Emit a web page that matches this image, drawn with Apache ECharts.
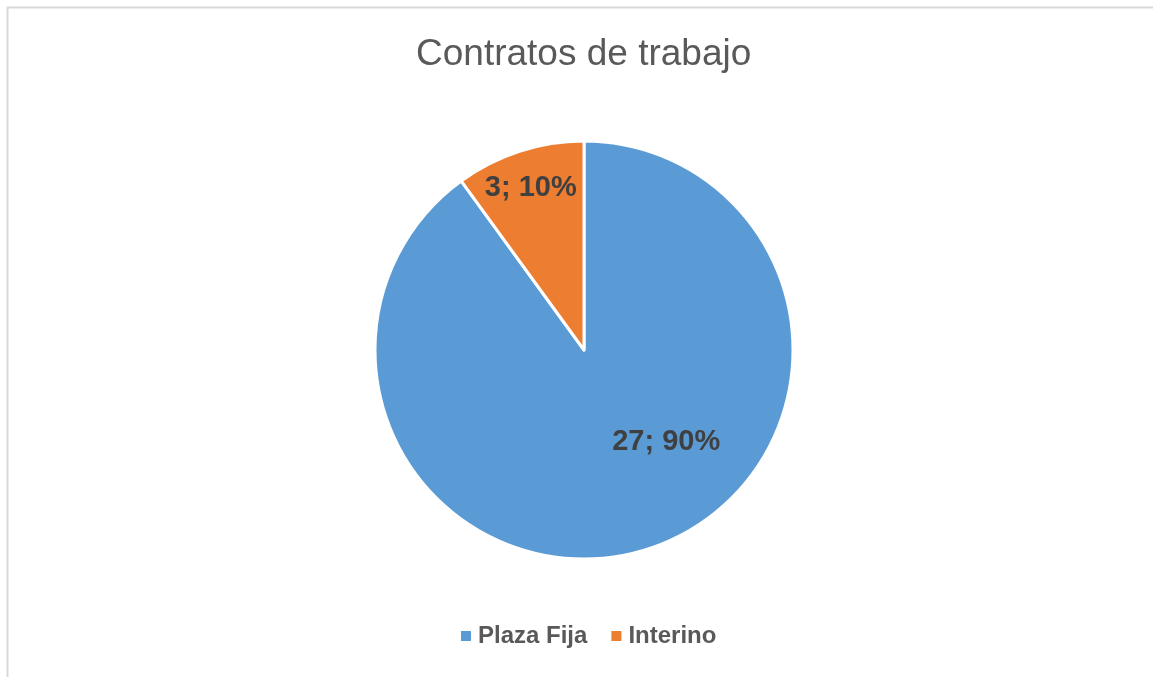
<!DOCTYPE html>
<html>
<head>
<meta charset="utf-8">
<title>Contratos de trabajo</title>
<script src="https://cdn.jsdelivr.net/npm/echarts@6/dist/echarts.min.js"></script>
<style>
  html, body { margin: 0; padding: 0; background: #fff; }
  #chart { width: 1153px; height: 677px; }
</style>
</head>
<body>
<div id="chart"></div>
<script>
// datos del gráfico
const categories = ['Plaza Fija', 'Interino'];
const values = [27, 3];
const colors = ['#5B9BD5', '#ED7D31'];
// desplazamiento de las etiquetas (como en Excel)
const labelShift = [[49, -10], [-20, -60]];

const myChart = echarts.init(document.getElementById('chart'));

const pieData = categories.map((name, i) => ({
  name,
  value: values[i],
  itemStyle: { color: colors[i] },
}));

myChart.setOption({
  animation: false,
  textStyle: { fontFamily: '"Liberation Sans", Arial, sans-serif' },
  title: {
    text: 'Contratos de trabajo',
    left: 411,
    top: 31,
    textStyle: {
      fontSize: 37,
      fontWeight: 'normal',
      color: '#595959',
      fontFamily: '"Liberation Sans", Arial, sans-serif',
    },
  },
  legend: {
    data: categories,
    left: 454,
    top: 619,
    icon: 'rect',
    itemWidth: 12,
    itemHeight: 12,
    itemGap: 22,
    textStyle: {
      fontSize: 24,
      fontWeight: 'bold',
      color: '#595959',
      padding: [0, 0, 0, 1],
    },
  },
  graphic: [
    {
      type: 'rect',
      shape: { x: 7.5, y: 7.5, width: 1300, height: 800 },
      style: { fill: 'none', stroke: '#d9d9d9', lineWidth: 2 },
      silent: true,
    },
  ],
  series: [
    {
      name: 'Contratos',
      type: 'pie',
      center: [584, 350],
      radius: [0, 209],
      startAngle: 90,
      clockwise: true,
      data: pieData,
      itemStyle: { borderColor: '#fff', borderWidth: 3 },
      label: {
        show: true,
        position: 'inside',
        formatter: (p) => `${p.value}; ${Math.round(p.percent)}%`,
        fontSize: 29,
        fontWeight: 'bold',
        color: '#404040',
      },
      labelLine: { show: false },
      labelLayout: (params) => ({
        dx: labelShift[params.dataIndex][0],
        dy: labelShift[params.dataIndex][1],
      }),
      emphasis: { disabled: true },
    },
  ],
});
</script>
</body>
</html>
